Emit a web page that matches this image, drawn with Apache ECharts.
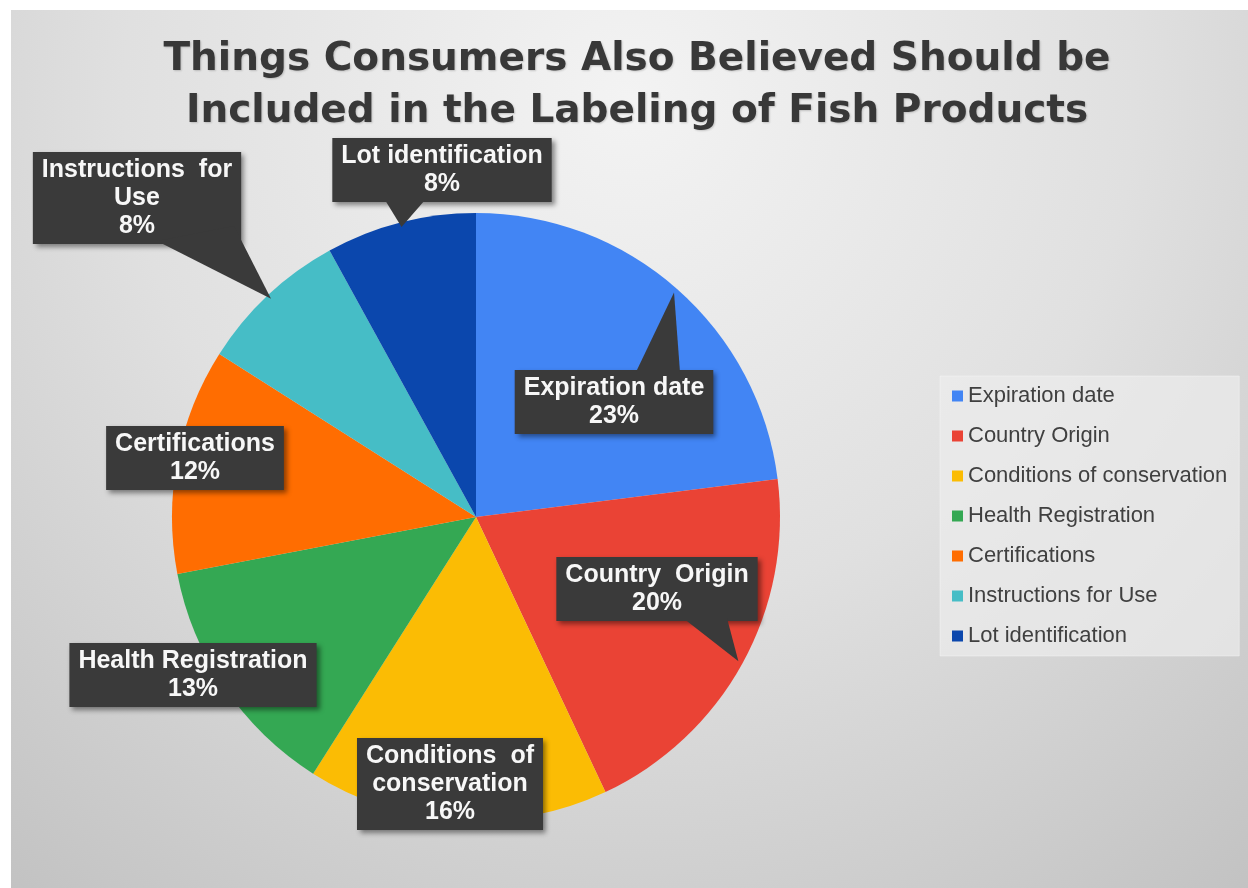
<!DOCTYPE html>
<html>
<head>
<meta charset="utf-8">
<script src="https://cdn.jsdelivr.net/npm/echarts@6/dist/echarts.min.js"></script>
<style>
  html, body { margin: 0; padding: 0; background: #ffffff; }
  #chart { position: absolute; left: 11px; top: 10px; width: 1237px; height: 878px; }
</style>
</head>
<body>
<div id="chart"></div>
<script>
// Survey answers: share of consumers naming each item
const categories = [
  'Expiration date',
  'Country Origin',
  'Conditions of conservation',
  'Health Registration',
  'Certifications',
  'Instructions for Use',
  'Lot identification'
];
const shares = [23, 20, 16, 13, 12, 8, 8];

// Text shown inside the dark callout boxes
const calloutText = [
  'Expiration date',
  'Country  Origin',
  'Conditions  of\nconservation',
  'Health Registration',
  'Certifications',
  'Instructions  for\nUse',
  'Lot identification'
];

const sliceColors = ['#4285f4', '#ea4335', '#fbbc04', '#34a853', '#ff6d01', '#46bdc6', '#0b47ad'];
const boxColor = '#3a3a3a';

// Centre of each callout box, in chart pixels
const labelCentres = [[603, 392], [646, 579], [439, 774], [182, 665], [184, 448], [126, 188], [431, 160]];
// Where each callout pointer leaves its box (offsets from the box centre); null = no pointer
const pointerBase = [
  [[22, -30], [66, -30]],
  [[26, 29], [70, 29]],
  null,
  null,
  null,
  [[20, 43], [97, 28]],
  [[-57, 30], [-17, 30]]
];

const chart = echarts.init(document.getElementById('chart'), null, { renderer: 'canvas' });

chart.setOption({
  animation: false,
  backgroundColor: {
    type: 'radial', x: 0.5, y: 0.1, r: 1.15,
    colorStops: [
      { offset: 0, color: '#f3f3f3' },
      { offset: 0.5, color: '#e0e0e0' },
      { offset: 1, color: '#c2c2c2' }
    ]
  },
  title: {
    text: 'Things Consumers Also Believed Should be\nIncluded in the Labeling of Fish Products',
    left: 626,
    top: 24,
    textAlign: 'center',
    padding: 0,
    textStyle: {
      fontFamily: 'DejaVu Sans',
      fontWeight: 'bold',
      fontSize: 39,
      lineHeight: 52,
      color: '#383838',
      textShadowColor: 'rgba(0,0,0,0.18)',
      textShadowBlur: 2,
      textShadowOffsetX: 1,
      textShadowOffsetY: 1
    }
  },
  legend: {
    orient: 'vertical',
    left: 929,
    top: 366,
    icon: 'rect',
    itemWidth: 11,
    itemHeight: 11,
    itemGap: 18,
    padding: [9, 12, 9, 12],
    backgroundColor: 'rgba(236,236,236,0.7)',
    borderColor: 'rgba(255,255,255,0.35)',
    borderWidth: 1,
    selectedMode: false,
    textStyle: {
      fontFamily: 'Liberation Sans, Arial',
      fontSize: 22,
      lineHeight: 22,
      color: '#404040'
    },
    data: categories
  },
  series: [{
    type: 'pie',
    center: [465, 507],
    radius: 304,
    startAngle: 90,
    clockwise: true,
    avoidLabelOverlap: false,
    silent: true,
    labelLine: { show: false },
    label: {
      show: true,
      position: 'inside',
      formatter: p => calloutText[p.dataIndex] + '\n' + p.value + '%',
      color: '#f7f7f7',
      fontFamily: 'Liberation Sans, Arial',
      fontWeight: 'bold',
      fontSize: 25,
      lineHeight: 28,
      align: 'center',
      backgroundColor: boxColor,
      padding: [4, 9],
      shadowColor: 'rgba(0,0,0,0.45)',
      shadowBlur: 5,
      shadowOffsetX: 3,
      shadowOffsetY: 3
    },
    labelLayout: p => ({
      x: labelCentres[p.dataIndex][0],
      y: labelCentres[p.dataIndex][1],
      align: 'center',
      verticalAlign: 'middle'
    }),
    data: categories.map((name, i) => ({
      name: name,
      value: shares[i],
      itemStyle: { color: sliceColors[i] }
    }))
  }]
});

// Callout pointers: a wedge from the box to the middle of its slice's rim
const sliceData = chart.getModel().getSeriesByIndex(0).getData();
const wedges = [];
pointerBase.forEach((base, i) => {
  if (!base) return;
  const lay = sliceData.getItemLayout(i);
  const mid = (lay.startAngle + lay.endAngle) / 2;
  const tip = [lay.cx + lay.r * 0.985 * Math.cos(mid), lay.cy + lay.r * 0.985 * Math.sin(mid)];
  const c = labelCentres[i];
  wedges.push({
    type: 'polygon',
    z: 100,
    silent: true,
    shape: {
      points: [
        [c[0] + base[0][0], c[1] + base[0][1]],
        tip,
        [c[0] + base[1][0], c[1] + base[1][1]]
      ]
    },
    style: { fill: boxColor }
  });
});
chart.setOption({ graphic: wedges });
</script>
</body>
</html>
